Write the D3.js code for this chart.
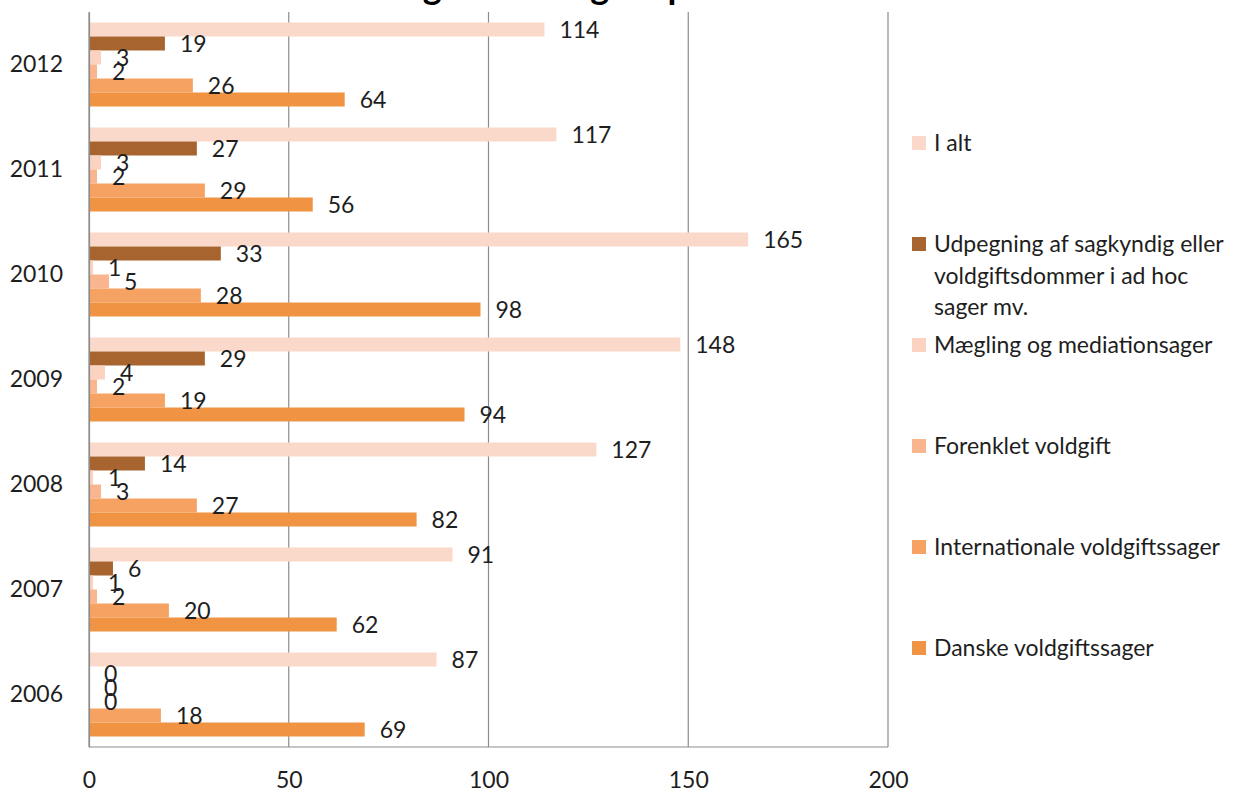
<!DOCTYPE html>
<html>
<head>
<meta charset="utf-8">
<script src="https://cdn.jsdelivr.net/npm/d3@7"></script>
<style>
  body { margin: 0; background: #fff; }
  text { font-family: Lato, "Open Sans", sans-serif; fill: #1e1e1e; }
</style>
</head>
<body>
<div id="container"></div>
<script>
/* CONSTANTS AND GLOBALS */
const width = 1248;
const height = 796;
const plot = { left: 89, right: 888, top: 12, bottom: 747 };
const fontSize = "23px";

/* DATA */
const years = ["2012", "2011", "2010", "2009", "2008", "2007", "2006"];
const seriesNames = ["I alt", "Udpegning", "Mægling", "Forenklet", "Internationale", "Danske"];
const iAlt = [114, 117, 165, 148, 127, 91, 87];
const udpegning = [19, 27, 33, 29, 14, 6, 0];
const maegling = [3, 3, 1, 4, 1, 1, 0];
const forenklet = [2, 2, 5, 2, 3, 2, 0];
const internationale = [26, 29, 28, 19, 27, 20, 18];
const danske = [64, 56, 98, 94, 82, 62, 69];
const xTicks = [0, 50, 100, 150, 200];
const legendLabels = [
  ["I alt"],
  ["Udpegning af sagkyndig eller", "voldgiftsdommer i ad hoc", "sager mv."],
  ["Mægling og mediationsager"],
  ["Forenklet voldgift"],
  ["Internationale voldgiftssager"],
  ["Danske voldgiftssager"]
];
const colors = ["#fbd9ca", "#a7642f", "#fcd3c0", "#f9b58d", "#f6a263", "#f09443"];
const title = "Udvikling i antal sager i perioden 2006-2012";

const seriesValues = [iAlt, udpegning, maegling, forenklet, internationale, danske];
const rows = years.map((y, i) => ({
  year: y,
  values: seriesNames.map((s, j) => ({ series: s, value: seriesValues[j][i] }))
}));

/* SCALES */
const xScale = d3.scaleLinear()
  .domain([0, 200])
  .range([plot.left, plot.right]);

const yScale = d3.scaleBand()
  .domain(years)
  .range([plot.top, plot.bottom])
  .paddingInner(0.2)
  .paddingOuter(0.1);

const innerScale = d3.scaleBand()
  .domain(seriesNames)
  .range([0, yScale.bandwidth()]);

const colorScale = d3.scaleOrdinal()
  .domain(seriesNames)
  .range(colors);

/* SVG */
const svg = d3.select("#container")
  .append("svg")
  .attr("width", width)
  .attr("height", height);

// title, mostly above the top edge like the original
svg.append("text")
  .attr("x", 645)
  .attr("y", -1)
  .attr("text-anchor", "middle")
  .style("font-size", "36px")
  .style("font-weight", "bold")
  .style("fill", "#000")
  .text(title);

// gridlines
svg.append("g")
  .selectAll("line")
  .data(xTicks)
  .join("line")
  .attr("x1", d => xScale(d))
  .attr("x2", d => xScale(d))
  .attr("y1", plot.top)
  .attr("y2", plot.bottom)
  .attr("stroke", "#8c8c8c")
  .attr("stroke-width", 1.2);

svg.append("line")
  .attr("x1", plot.left)
  .attr("x2", plot.right)
  .attr("y1", plot.bottom)
  .attr("y2", plot.bottom)
  .attr("stroke", "#8c8c8c")
  .attr("stroke-width", 1.2);

// bars
const groups = svg.append("g")
  .selectAll("g")
  .data(rows)
  .join("g")
  .attr("transform", d => `translate(0,${yScale(d.year)})`);

groups.selectAll("rect")
  .data(d => d.values)
  .join("rect")
  .attr("x", xScale(0))
  .attr("y", d => innerScale(d.series))
  .attr("width", d => xScale(d.value) - xScale(0))
  .attr("height", innerScale.bandwidth())
  .attr("fill", d => colorScale(d.series));

groups.selectAll("text")
  .data(d => d.values)
  .join("text")
  .attr("x", d => xScale(d.value) + 15)
  .attr("y", d => innerScale(d.series) + innerScale.bandwidth() / 2)
  .attr("dy", "0.36em")
  .style("font-size", fontSize)
  .text(d => d.value);

// x axis
const xAxis = svg.append("g")
  .attr("transform", `translate(0,${plot.bottom})`)
  .call(d3.axisBottom(xScale).tickValues(xTicks).tickSize(0).tickPadding(25));
xAxis.select(".domain").remove();
xAxis.selectAll("text")
  .style("font-size", fontSize)
  .style("font-family", "Lato, sans-serif")
  .attr("fill", "#1e1e1e");

// y axis
const yAxis = svg.append("g")
  .attr("transform", `translate(${plot.left},0)`)
  .call(d3.axisLeft(yScale).tickSize(0).tickPadding(26));
yAxis.select(".domain")
  .attr("stroke", "#8c8c8c")
  .attr("stroke-width", 1.2);
yAxis.selectAll("text")
  .style("font-size", fontSize)
  .style("font-family", "Lato, sans-serif")
  .attr("fill", "#1e1e1e");

// legend
const legend = svg.append("g")
  .selectAll("g")
  .data(seriesNames)
  .join("g")
  .attr("transform", (d, i) => `translate(912,${143 + i * 101})`);

legend.append("rect")
  .attr("x", 0)
  .attr("y", -7)
  .attr("width", 14)
  .attr("height", 14)
  .attr("fill", d => colorScale(d));

legend.append("text")
  .style("font-size", fontSize)
  .selectAll("tspan")
  .data((d, i) => legendLabels[i])
  .join("tspan")
  .attr("x", 22)
  .attr("y", (d, i) => i * 31.5)
  .attr("dy", "0.36em")
  .text(d => d);
</script>
</body>
</html>
